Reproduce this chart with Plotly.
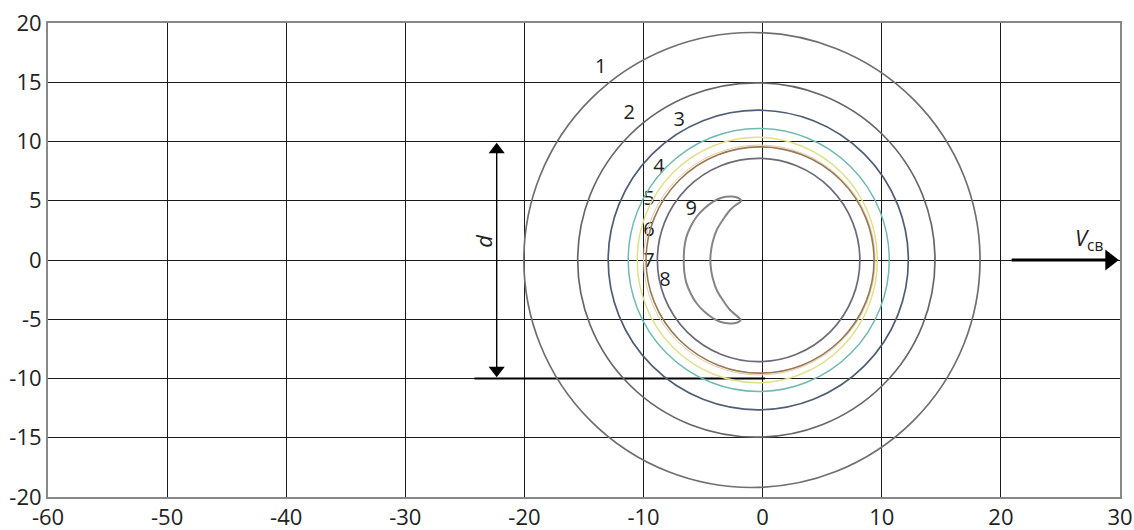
import plotly.graph_objects as go

# ---- data ----
# contour rings: centre x, half-width, half-height, colour
ring_ids = [1, 2, 3, 4, 5, 6, 7, 8]
ring_cx = [-0.9, -0.53, -0.37, -0.33, -0.45, -0.28, -0.22, -0.34]
ring_rx = [19.15, 15.0, 12.6, 10.96, 10.08, 9.72, 9.57, 8.5]
ring_ry = [19.2, 14.95, 12.64, 11.1, 10.35, 9.7, 9.55, 8.58]
ring_colors = ["#6f6f6f", "#666666", "#4f5d72", "#70bab0", "#e0e08a",
               "#e6c9a0", "#957a58", "#6c6a78"]
ring_widths = [1.7, 1.7, 1.7, 1.5, 1.5, 1.0, 1.6, 1.7]

# crescent (contour 9)
cres_x = [-1.8, -2.2, -2.75, -3.45, -4.15, -4.9, -5.55, -6.05, -6.4, -6.58, -6.62,
          -6.58, -6.4, -6.05, -5.55, -4.9, -4.15, -3.45, -2.75, -2.2, -1.85,
          -2.25, -2.75, -3.3, -3.85, -4.2, -4.37, -4.37, -4.2, -3.85, -3.3, -2.75, -2.25, -1.8]
cres_y = [5.0, 5.3, 5.35, 5.25, 4.93, 4.35, 3.65, 2.8, 1.95, 1.0, 0.0,
          -1.0, -1.95, -2.8, -3.65, -4.35, -4.93, -5.25, -5.35, -5.3, -5.05,
          -4.65, -4.2, -3.45, -2.55, -1.5, -0.5, 0.5, 1.5, 2.55, 3.45, 4.2, 4.65, 5.0]

# ring labels
label_text = ["1", "2", "3", "4", "5", "6", "7", "8", "9"]
label_x = [-13.6, -11.2, -7.0, -8.7, -9.55, -9.55, -9.55, -8.2, -6.0]
label_y = [16.2, 12.3, 11.75, 7.8, 5.1, 2.45, -0.2, -1.75, 4.25]

# dimension d and flow arrow
d_x = [-22.33, -22.33]
d_y = [9.9, -9.9]
base_x = [-24.2, 0.2]
base_y = [-10, -10]
v_x = [20.9, 29.9]
v_y = [0, 0]

x_ticks = [-60, -50, -40, -30, -20, -10, 0, 10, 20, 30]
y_ticks = [-20, -15, -10, -5, 0, 5, 10, 15, 20]

ML, MR, MT, MB = 48, 14, 23, 33
PX_PER_X = (1134 - ML - MR) / 90.0
PX_PER_Y = (530 - MT - MB) / 40.0

fig = go.Figure()

shapes = []
for cx, rx, ry, col, w in zip(ring_cx, ring_rx, ring_ry, ring_colors, ring_widths):
    shapes.append(dict(type="circle", xref="x", yref="y",
                       x0=cx - rx, x1=cx + rx, y0=-ry, y1=ry,
                       line=dict(color=col, width=w)))

fig.add_trace(go.Scatter(x=cres_x, y=cres_y, mode="lines",
                         line=dict(color="#858585", width=2, shape="spline"),
                         hoverinfo="skip", showlegend=False))

# base line at y=-10
fig.add_trace(go.Scatter(x=base_x, y=base_y, mode="lines",
                         line=dict(color="#000000", width=2),
                         hoverinfo="skip", showlegend=False))

# d dimension arrow (shaft + two heads)
head_d = 14
off_d = (head_d / 2) / PX_PER_Y
fig.add_trace(go.Scatter(x=d_x, y=[d_y[0] - off_d, d_y[1] + off_d], mode="lines",
                         line=dict(color="#000000", width=1.4),
                         hoverinfo="skip", showlegend=False))
fig.add_trace(go.Scatter(x=d_x, y=[d_y[0] - off_d, d_y[1] + off_d], mode="markers",
                         marker=dict(symbol=["triangle-up", "triangle-down"], size=head_d,
                                     color="#000000", line=dict(width=0)),
                         hoverinfo="skip", showlegend=False))

# flow velocity arrow
head_v = 18
off_v = (head_v / 2) / PX_PER_X
fig.add_trace(go.Scatter(x=[v_x[0], v_x[1] - off_v], y=v_y, mode="lines",
                         line=dict(color="#000000", width=3),
                         hoverinfo="skip", showlegend=False))
fig.add_trace(go.Scatter(x=[v_x[1] - off_v], y=[v_y[1]], mode="markers",
                         marker=dict(symbol="triangle-right", size=head_v,
                                     color="#000000", line=dict(width=0)),
                         hoverinfo="skip", showlegend=False))

fig.add_trace(go.Scatter(x=label_x, y=label_y, mode="text", text=label_text,
                         textfont=dict(family="Open Sans", size=20, color="#222222"),
                         hoverinfo="skip", showlegend=False))

annotations = [
    dict(x=-23.5, y=1.6, xref="x", yref="y", text="<i>d</i>", showarrow=False,
         textangle=-90, font=dict(family="Open Sans", size=22, color="#222222")),
    dict(x=27.4, y=1.75, xref="x", yref="y", text="<i>V</i><sub>св</sub>", showarrow=False,
         font=dict(family="Open Sans", size=22, color="#222222")),
]

axis_common = dict(showgrid=True, gridcolor="#1a1a1a", gridwidth=1, zeroline=False,
                   showline=True, linecolor="#888888", linewidth=2, mirror=True,
                   tickfont=dict(family="Open Sans", size=22, color="#222222"),
                   ticks="", fixedrange=True, automargin=False)

fig.update_layout(
    width=1134, height=530,
    margin=dict(l=ML, r=MR, t=MT, b=MB),
    paper_bgcolor="white", plot_bgcolor="white",
    shapes=shapes, annotations=annotations,
    xaxis=dict(range=[-60, 30], tickvals=x_ticks, ticktext=[str(v) for v in x_ticks],
               ticklabelstandoff=0, **axis_common),
    yaxis=dict(range=[-20, 20], tickvals=y_ticks, ticktext=[str(v) for v in y_ticks],
               **axis_common),
    showlegend=False,
)

fig.write_html("out.html", config={"displayModeBar": False},
               post_script="document.body.style.margin='0';document.body.style.overflow='hidden';")
